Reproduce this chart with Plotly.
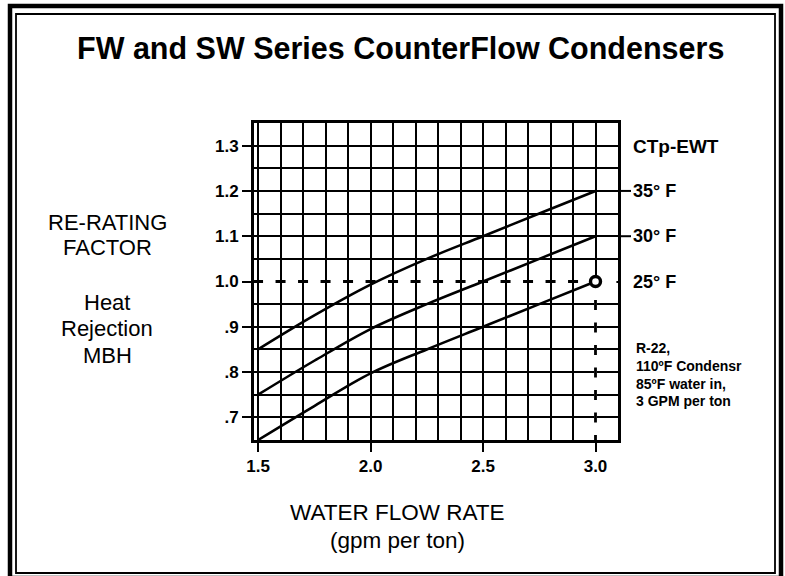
import plotly.graph_objects as go

# ---- data ----
flow_rate = [1.5, 1.75, 2.0, 2.25, 2.5, 2.75, 3.0]
ewt_35 = [0.85, 0.925, 0.993, 1.05, 1.10, 1.15, 1.20]
ewt_30 = [0.75, 0.825, 0.895, 0.95, 1.00, 1.05, 1.10]
ewt_25 = [0.65, 0.725, 0.797, 0.85, 0.90, 0.95, 1.00]
x_tick_vals = [1.5, 2.0, 2.5, 3.0]
x_tick_text = ["1.5", "2.0", "2.5", "3.0"]
y_tick_vals = [0.7, 0.8, 0.9, 1.0, 1.1, 1.2, 1.3]
y_tick_text = [".7", ".8", ".9", "1.0", "1.1", "1.2", "1.3"]
curve_labels = ["35° F", "30° F", "25° F"]
curve_label_y = [1.2, 1.1, 1.0]
rated_point = (3.0, 1.0)
note_lines = ["R-22,", "110ºF Condensr", "85ºF water in,", "3 GPM per ton"]

FONT = "Arial, 'Liberation Sans', Helvetica, sans-serif"
W, H = 785, 576
L, R, T, B = 254, 618, 123, 440  # plot area in pixels

def px(x):
    return (x - L) / (R - L)

def py(y):
    return (B - y) / (B - T)

XR = [1.482, 3.1]
YR = [0.65, 1.35]
x_per_px = (XR[1] - XR[0]) / (R - L)
y_per_px = (YR[1] - YR[0]) / (B - T)

fig = go.Figure()

# erase solid grid lines where the reference shows dashed guide lines
fig.add_trace(go.Scatter(x=[rated_point[0], rated_point[0]], y=[YR[0], rated_point[1]], mode="lines",
                         line=dict(color="white", width=3), showlegend=False, hoverinfo="skip"))
fig.add_trace(go.Scatter(x=[XR[0] + 1.6 * x_per_px, XR[1] - 1.6 * x_per_px], y=[rated_point[1], rated_point[1]],
                         mode="lines", line=dict(color="white", width=3), showlegend=False, hoverinfo="skip"))

for ys in (ewt_35, ewt_30, ewt_25):
    fig.add_trace(go.Scatter(x=flow_rate, y=ys, mode="lines",
                             line=dict(color="black", width=2.6, shape="spline", smoothing=1.0),
                             hoverinfo="skip", showlegend=False))

# dashed reference lines to the rated point (dashes centred on grid lines)
fig.add_trace(go.Scatter(x=[1.5 - 5 * x_per_px, rated_point[0]], y=[rated_point[1], rated_point[1]], mode="lines",
                         line=dict(color="black", width=2.8, dash="10px,12.5px"),
                         showlegend=False, hoverinfo="skip"))
fig.add_trace(go.Scatter(x=[rated_point[0], rated_point[0]], y=[YR[0] - 5 * y_per_px, rated_point[1]], mode="lines",
                         line=dict(color="black", width=2.8, dash="10px,12.5px"),
                         showlegend=False, hoverinfo="skip"))
fig.add_trace(go.Scatter(x=[rated_point[0]], y=[rated_point[1]], mode="markers",
                         marker=dict(symbol="circle", size=10, color="white",
                                     line=dict(color="black", width=3.4)),
                         showlegend=False, hoverinfo="skip"))

x_minor = [round(1.5 + 0.1 * i, 2) for i in range(17)]
y_minor = [round(0.65 + 0.05 * i, 2) for i in range(15)]

fig.update_xaxes(range=XR, tickmode="array", tickvals=x_tick_vals, ticktext=x_tick_text,
                 showgrid=True, gridcolor="black", gridwidth=2, zeroline=False,
                 ticks="outside", ticklen=9, tickwidth=2, tickcolor="black",
                 showline=True, linecolor="black", linewidth=3, mirror=True,
                 tickfont=dict(family=FONT, size=17, color="black", weight="bold"),
                 minor=dict(tickmode="array", tickvals=x_minor, showgrid=True,
                            gridcolor="black", gridwidth=2, ticks=""))
fig.update_yaxes(range=YR, tickmode="array", tickvals=y_tick_vals, ticktext=y_tick_text,
                 showgrid=True, gridcolor="black", gridwidth=2, zeroline=False,
                 ticks="outside", ticklen=9, tickwidth=2, tickcolor="black",
                 showline=True, linecolor="black", linewidth=3, mirror=True,
                 tickfont=dict(family=FONT, size=17, color="black", weight="bold"),
                 minor=dict(tickmode="array", tickvals=y_minor, showgrid=True,
                            gridcolor="black", gridwidth=2, ticks=""))

shapes = []
# right extensions of 1.2 and 1.1 grid lines
for yv in curve_label_y[:2]:
    shapes.append(dict(type="line", xref="paper", yref="y", x0=1.0, x1=px(631), y0=yv, y1=yv,
                       line=dict(color="black", width=2)))
# double frame
shapes.append(dict(type="rect", xref="paper", yref="paper", x0=px(10), x1=px(781), y0=py(6), y1=py(578),
                   line=dict(color="black", width=4.5)))
shapes.append(dict(type="rect", xref="paper", yref="paper", x0=px(16), x1=px(775), y0=py(14), y1=py(573),
                   line=dict(color="black", width=1.8)))

annotations = []
annotations.append(dict(text="<b>FW and SW Series CounterFlow Condensers</b>", xref="paper", yref="paper",
                        x=px(400), y=py(48), showarrow=False, xanchor="center", yanchor="middle",
                        font=dict(family=FONT, size=30.5, color="black")))
for txt, yy in [("RE-RATING", 222), ("FACTOR", 247), ("Heat", 302), ("Rejection", 328), ("MBH", 355)]:
    annotations.append(dict(text=txt, xref="paper", yref="paper", x=px(107), y=py(yy), showarrow=False,
                            xanchor="center", yanchor="middle", font=dict(family=FONT, size=22, color="black")))
for txt, yy in [("WATER FLOW RATE", 512), ("(gpm per ton)", 540)]:
    annotations.append(dict(text=txt, xref="paper", yref="paper", x=px(397), y=py(yy), showarrow=False,
                            xanchor="center", yanchor="middle", font=dict(family=FONT, size=22.5, color="black")))
annotations.append(dict(text="<b>CTp-EWT</b>", xref="paper", yref="y", x=px(631), y=1.298, showarrow=False,
                        xanchor="left", yanchor="middle", font=dict(family=FONT, size=19, color="black")))
for txt, yv in zip(curve_labels, curve_label_y):
    annotations.append(dict(text="<b>" + txt + "</b>", xref="paper", yref="y", x=px(631), y=yv, showarrow=False,
                            xanchor="left", yanchor="middle", font=dict(family=FONT, size=18, color="black")))
for i, txt in enumerate(note_lines):
    annotations.append(dict(text="<b>" + txt + "</b>", xref="paper", yref="paper", x=px(634), y=py(348 + 17.8 * i),
                            showarrow=False, xanchor="left", yanchor="middle",
                            font=dict(family=FONT, size=14, color="black")))

fig.update_layout(width=W, height=H, autosize=False,
                  margin=dict(l=L, r=W - R, t=T, b=H - B, pad=0),
                  paper_bgcolor="white", plot_bgcolor="white",
                  shapes=shapes, annotations=annotations, showlegend=False)

fig.write_html("out.html", config={"displayModeBar": False},
               post_script="document.body.style.margin='0px';")
